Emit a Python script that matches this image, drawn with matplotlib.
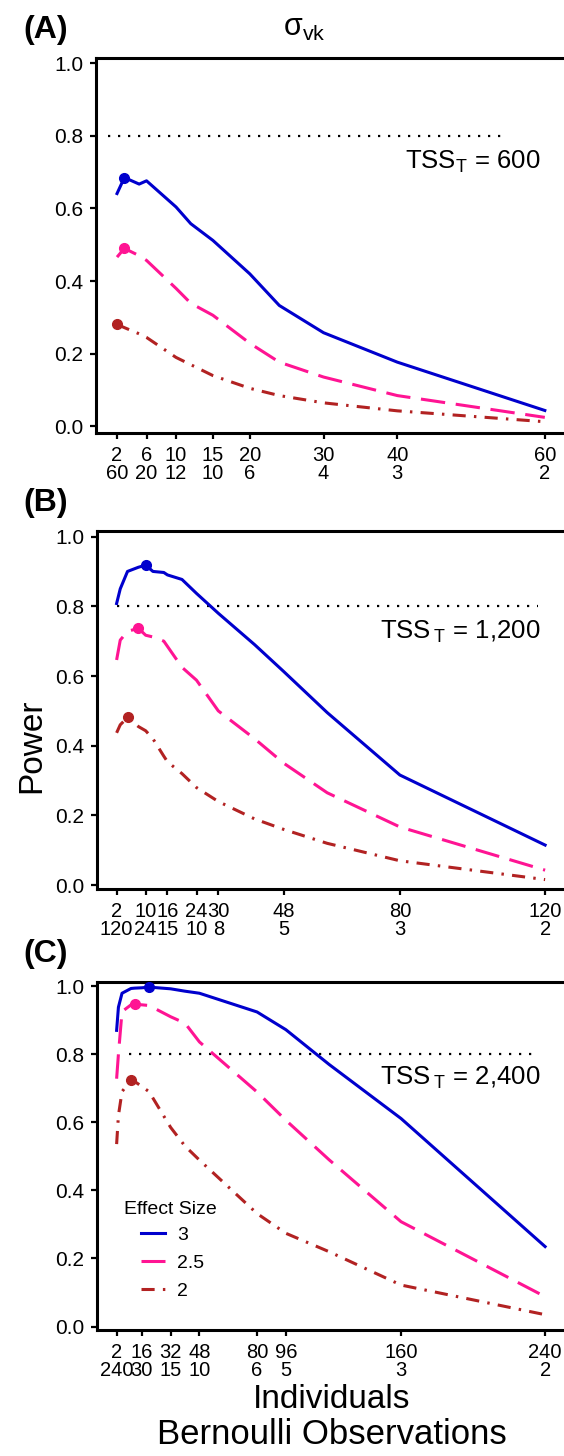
import numpy as np
import matplotlib
matplotlib.use('Agg')
import matplotlib.pyplot as plt
from matplotlib.lines import Line2D

plt.rcParams['font.family'] = ['Liberation Sans', 'DejaVu Sans']
plt.rcParams['mathtext.fontset'] = 'custom'
plt.rcParams['mathtext.rm'] = 'Liberation Sans'
plt.rcParams['mathtext.it'] = 'Liberation Sans:italic'

## Data
# (A) TSS_T = 600
a_ind = [2, 3, 5, 6, 10, 12, 15, 20, 24, 30, 40, 60]
a_es3 = [0.641, 0.685, 0.667, 0.676, 0.604, 0.558, 0.512, 0.420, 0.333, 0.258, 0.177, 0.044]
a_es25 = [0.466, 0.490, 0.470, 0.457, 0.380, 0.339, 0.306, 0.229, 0.177, 0.136, 0.085, 0.025]
a_es2 = [0.281, 0.272, 0.255, 0.245, 0.190, 0.170, 0.140, 0.105, 0.085, 0.065, 0.043, 0.013]
a_tick_ind = [2, 6, 10, 15, 20, 30, 40, 60]
a_tick_obs = [60, 20, 12, 10, 6, 4, 3, 2]

# (B) TSS_T = 1,200
b_ind = [2, 3, 5, 8, 10, 12, 15, 16, 20, 24, 30, 40, 48, 60, 80, 120]
b_es3 = [0.808, 0.850, 0.900, 0.912, 0.918, 0.900, 0.897, 0.890, 0.877, 0.837, 0.780, 0.690, 0.613, 0.495, 0.316, 0.115]
b_es25 = [0.646, 0.703, 0.728, 0.737, 0.717, 0.712, 0.700, 0.685, 0.625, 0.588, 0.500, 0.420, 0.350, 0.265, 0.167, 0.043]
b_es2 = [0.437, 0.460, 0.481, 0.455, 0.443, 0.420, 0.370, 0.354, 0.320, 0.280, 0.240, 0.190, 0.160, 0.120, 0.070, 0.016]
b_tick_ind = [2, 10, 16, 24, 30, 48, 80, 120]
b_tick_obs = [120, 24, 15, 10, 8, 5, 3, 2]

# (C) TSS_T = 2,400
c_ind = [2, 3, 5, 10, 12, 16, 20, 32, 40, 48, 80, 96, 120, 160, 240]
c_es3 = [0.870, 0.938, 0.979, 0.993, 0.994, 0.995, 0.997, 0.992, 0.985, 0.979, 0.924, 0.872, 0.770, 0.611, 0.235]
c_es25 = [0.728, 0.800, 0.925, 0.945, 0.946, 0.945, 0.943, 0.910, 0.891, 0.836, 0.689, 0.606, 0.490, 0.308, 0.088]
c_es2 = [0.536, 0.620, 0.690, 0.725, 0.720, 0.705, 0.690, 0.585, 0.530, 0.489, 0.332, 0.274, 0.220, 0.122, 0.035]
c_tick_ind = [2, 16, 32, 48, 80, 96, 160, 240]
c_tick_obs = [240, 30, 15, 10, 6, 5, 3, 2]

tss_labels = ['TSS$_\\mathrm{T}$ = 600', 'TSS$\\,_\\mathrm{T}$ = 1,200', 'TSS$\\,_\\mathrm{T}$ = 2,400']
panel_letters = ['(A)', '(B)', '(C)']
effect_sizes = ['3', '2.5', '2']
target_power = 0.8
hline_span = [(0.8, 54.5), (2, 118), (8.8, 236)]

colors = ['#0000CD', '#FF1493', '#B22222']
styles = ['-', (0, (8, 3.5)), (0, (4.3, 2.7, 0.8, 2.7))]

fig = plt.figure(figsize=(5.64, 14.56), dpi=100)

boxes = [(96, 58, 433), (97, 531, 889), (97, 982, 1330)]
xlims = [(-0.85, 62.6), (-3.4, 125.2), (-8.9, 250.5)]
ylims = [(-0.018, 1.014), (-0.011, 1.016), (-0.01, 1.012)]
tss_y = [162, 632, 1078]

panels = [
    (a_ind, [a_es3, a_es25, a_es2], a_tick_ind, a_tick_obs),
    (b_ind, [b_es3, b_es25, b_es2], b_tick_ind, b_tick_obs),
    (c_ind, [c_es3, c_es25, c_es2], c_tick_ind, c_tick_obs),
]

W, H = 564.0, 1456.0
axes = []
for i, (ind, series, t_ind, t_obs) in enumerate(panels):
    left, top, bot = boxes[i]
    ax = fig.add_axes([left / W, 1 - bot / H, 1 - left / W, (bot - top) / H])
    axes.append(ax)

    ax.hlines(target_power, hline_span[i][0], hline_span[i][1], colors='black',
              linestyles=(0, (1, 3.5)), linewidth=1.6, zorder=1)

    for s, col, ls, lab in zip(series, colors, styles, effect_sizes):
        ax.plot(ind, s, color=col, linestyle=ls, linewidth=2.2, label=lab, zorder=2)
        k = int(np.argmax(s))
        ax.plot(ind[k], s[k], 'o', color=col, markersize=7, zorder=3)

    ax.set_xlim(*xlims[i])
    ax.set_ylim(*ylims[i])
    ax.set_yticks([0, 0.2, 0.4, 0.6, 0.8, 1.0])
    ax.set_yticklabels(['0.0', '0.2', '0.4', '0.6', '0.8', '1.0'])
    ax.set_xticks(t_ind)
    ax.set_xticklabels([f'{a}\n{b}' for a, b in zip(t_ind, t_obs)], linespacing=0.95)
    ax.tick_params(direction='out', length=4.5, width=1.6, labelsize=15, pad=4.5)
    ax.tick_params(axis='x', labelsize=14.5, pad=4.5)

    for side in ['left', 'bottom', 'top']:
        ax.spines[side].set_linewidth(2.2)
    ax.spines['right'].set_visible(False)

    fig.text(540 / W, 1 - tss_y[i] / H, tss_labels[i], ha='right', va='center', fontsize=18.5)
    fig.text(23 / W, 1 - (top - 28) / H, panel_letters[i], fontsize=23, fontweight='bold',
             ha='left', va='center')

fig.text(304 / W, 1 - 28 / H, 'σ$_{\\mathrm{vk}}$', fontsize=22, ha='center', va='center')
fig.text(32 / W, 1 - 746 / H, 'Power', fontsize=24, rotation=90, ha='center', va='center')
fig.text(332 / W, 1 - 1399 / H, 'Individuals', fontsize=24, ha='center', va='center')
fig.text(332 / W, 1 - 1434 / H, 'Bernoulli Observations', fontsize=25, ha='center', va='center')

# legend: title drawn on its own so the keys sit indented like the reference
axes[2].text((124 - 97) / (W - 97), (1330 - 1210) / (1330 - 982), 'Effect Size',
             transform=axes[2].transAxes, ha='left', va='center', fontsize=14)
handles = [Line2D([], [], color=c, linestyle=ls, linewidth=2.2) for c, ls in zip(colors, styles)]
leg = axes[2].legend(handles, effect_sizes, loc='upper left',
                     bbox_to_anchor=((141 - 97) / (W - 97), (1330 - 1226) / (1330 - 982)),
                     frameon=False, fontsize=14, handlelength=1.25,
                     handletextpad=0.6, labelspacing=0.55, borderpad=0.0, borderaxespad=0.0)

fig.savefig('out.png', dpi=100)
